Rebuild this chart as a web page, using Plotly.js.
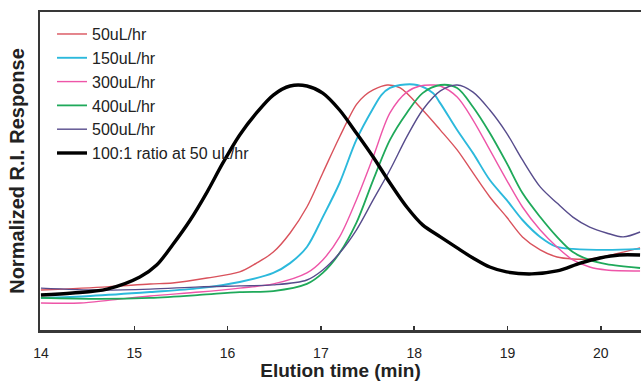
<!DOCTYPE html>
<html>
<head>
<meta charset="utf-8">
<script src="https://cdn.plot.ly/plotly-3.0.1.min.js"></script>
<style>html,body{margin:0;padding:0;background:#fff}#chart{width:641px;height:381px}</style>
</head>
<body>
<div id="chart"></div>
<script>
// Series names
const seriesNames = ["50uL/hr", "150uL/hr", "300uL/hr", "400uL/hr", "500uL/hr", "100:1 ratio at 50 uL/hr"];

// Elution time (min) and normalized response for each series
const t50 = [14.00,14.71,15.17,15.41,15.78,16.13,16.31,16.49,16.67,16.85,17.02,17.20,17.38,17.47,17.56,17.71,17.85,18.09,18.28,18.46,18.63,18.81,18.99,19.16,19.35,19.53,19.70,19.88,20.06,20.24,20.42];
const r50 = [0.163,0.176,0.188,0.192,0.212,0.237,0.273,0.318,0.396,0.502,0.641,0.788,0.920,0.957,0.980,1.000,0.988,0.898,0.816,0.735,0.641,0.543,0.461,0.380,0.327,0.298,0.290,0.290,0.302,0.318,0.335];

const t150 = [14.00,14.53,15.17,15.70,16.13,16.49,16.67,16.85,17.02,17.20,17.38,17.56,17.65,17.74,17.85,18.03,18.20,18.28,18.46,18.63,18.81,18.99,19.16,19.35,19.53,19.70,20.06,20.42];
const r150 = [0.131,0.139,0.155,0.171,0.196,0.233,0.273,0.339,0.461,0.600,0.776,0.905,0.960,0.988,1.000,1.000,0.967,0.925,0.816,0.722,0.612,0.531,0.449,0.380,0.339,0.331,0.327,0.331];

const t300 = [14.00,14.42,14.74,15.17,15.70,16.13,16.49,16.85,17.02,17.20,17.38,17.56,17.74,17.92,18.06,18.20,18.28,18.46,18.63,18.81,18.99,19.16,19.35,19.53,19.70,19.88,20.06,20.42];
const r300 = [0.110,0.110,0.122,0.139,0.155,0.171,0.188,0.233,0.286,0.380,0.531,0.706,0.886,0.971,0.996,1.000,0.996,0.951,0.857,0.735,0.612,0.502,0.408,0.339,0.286,0.257,0.245,0.241];

const t400 = [14.00,14.63,15.17,15.70,16.13,16.49,16.85,17.02,17.20,17.38,17.56,17.74,17.92,18.09,18.28,18.46,18.63,18.81,18.99,19.16,19.35,19.53,19.70,19.88,20.06,20.42];
const r400 = [0.131,0.127,0.131,0.143,0.155,0.159,0.188,0.233,0.314,0.437,0.612,0.776,0.886,0.967,1.000,0.988,0.910,0.804,0.682,0.559,0.461,0.380,0.318,0.286,0.269,0.253];

const t500 = [14.00,14.63,15.17,15.70,16.13,16.49,16.85,17.02,17.20,17.38,17.56,17.74,17.92,18.09,18.28,18.46,18.63,18.81,18.99,19.16,19.35,19.53,19.70,19.88,20.06,20.24,20.42];
const r500 = [0.171,0.163,0.167,0.176,0.180,0.184,0.204,0.245,0.314,0.408,0.531,0.653,0.788,0.898,0.976,1.000,0.971,0.898,0.804,0.694,0.584,0.518,0.461,0.420,0.396,0.380,0.400];

const tRatio = [14.00,14.34,14.71,15.06,15.24,15.41,15.60,15.78,15.95,16.13,16.31,16.49,16.67,16.85,17.02,17.20,17.38,17.56,17.74,17.92,18.09,18.28,18.46,18.63,18.81,18.99,19.26,19.53,19.78,19.99,20.20,20.42];
const rRatio = [0.143,0.151,0.167,0.216,0.265,0.347,0.449,0.563,0.682,0.796,0.886,0.959,0.996,0.996,0.967,0.898,0.804,0.706,0.600,0.502,0.429,0.380,0.335,0.294,0.257,0.237,0.229,0.241,0.273,0.294,0.306,0.306];

// X tick labels
const xTicks = [14, 15, 16, 17, 18, 19, 20];

const colors = ["#d9525c", "#2cb9dc", "#ee55a8", "#1fa95a", "#574c8c", "#000000"];
const widths = [1.4, 1.9, 1.4, 1.8, 1.4, 3.4];
const xs = [t50, t150, t300, t400, t500, tRatio];
const ys = [r50, r150, r300, r400, r500, rRatio];

const traces = seriesNames.map((n, i) => ({
  x: xs[i], y: ys[i], name: n, type: "scatter", mode: "lines",
  legendgroup: "g" + i,
  line: {color: colors[i], width: widths[i], shape: "spline", smoothing: 0.9}
}));

const fam = "Liberation Sans, Arial, sans-serif";
const layout = {
  width: 641, height: 381,
  margin: {l: 40, r: 0, t: 12, b: 51},
  paper_bgcolor: "#fff", plot_bgcolor: "#fff",
  font: {family: fam, color: "#222"},
  showlegend: true,
  legend: {x: 0.02, y: 0.984, xanchor: "left", yanchor: "top", bgcolor: "rgba(0,0,0,0)",
           font: {size: 16, color: "#222"}, tracegroupgap: 5, traceorder: "normal", itemwidth: 30},
  xaxis: {
    range: [13.99, 20.43], tickvals: xTicks, ticktext: xTicks.map(String),
    ticks: "inside", ticklen: 4, tickwidth: 1.5, tickcolor: "#333",
    showline: true, linecolor: "#383838", linewidth: 2.5, mirror: true,
    showgrid: false, zeroline: false, ticklabelstandoff: 9,
    tickfont: {size: 14, color: "#222"},
    title: {text: "Elution time (min)", font: {size: 19, color: "#222", family: fam, weight: "bold"}, standoff: 9}
  },
  yaxis: {
    range: [0, 1.298], showticklabels: false, ticks: "",
    showline: true, linecolor: "#383838", linewidth: 2.5, mirror: false,
    showgrid: false, zeroline: false,
    title: {text: "Normalized R.I. Response", font: {size: 20, color: "#222", family: fam, weight: "bold"}, standoff: 8}
  }
};

Plotly.newPlot("chart", traces, layout, {displayModeBar: false, staticPlot: true});
</script>
</body>
</html>
